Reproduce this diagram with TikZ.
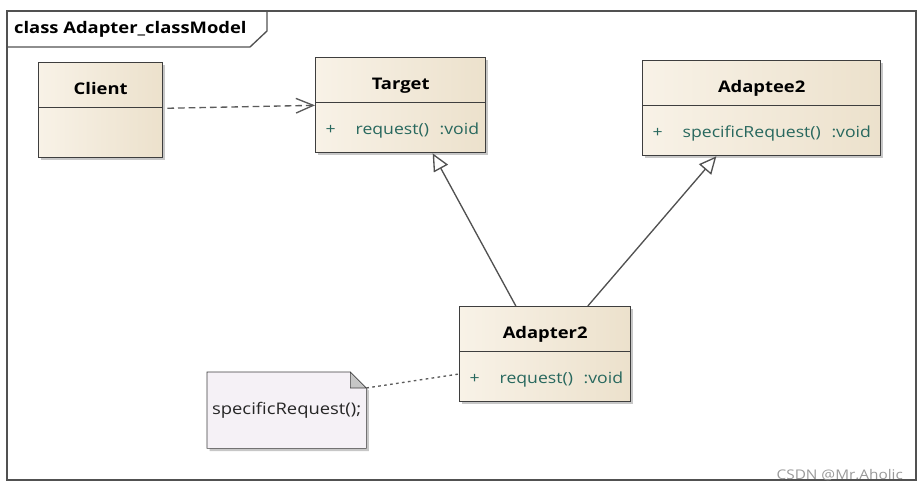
\documentclass[tikz,border=0pt]{standalone}
\usepackage{fontspec}
\setmainfont{Open Sans}[FakeStretch=1.15]
\usepackage{tikz}
\usetikzlibrary{arrows.meta}
\usetikzlibrary{positioning}
\usetikzlibrary{shadows}
\usetikzlibrary{backgrounds}
\definecolor{umllight}{RGB}{248,242,231}
\definecolor{umldark}{RGB}{236,225,204}
\definecolor{umlline}{RGB}{62,62,62}
\definecolor{umlmember}{RGB}{40,104,94}
\definecolor{notefill}{RGB}{245,241,246}
\definecolor{notefold}{RGB}{198,198,198}
\tikzstyle{umlhead} = [rectangle, draw=umlline, line width=1pt, left color=umllight,
    right color=umldark, anchor=north west, minimum height=33.75pt,
    text height=14pt, text depth=0.5pt,
    font=\fontsize{12}{14}\selectfont\bfseries,
    drop shadow={shadow xshift=2pt, shadow yshift=-2pt, fill=black!55, opacity=0.4}]
\tikzstyle{umlbody} = [rectangle, draw=umlline, line width=1pt, left color=umllight,
    right color=umldark, minimum height=37.5pt, inner xsep=7.5pt, align=left,
    text height=12pt, text depth=1.5pt,
    text=umlmember, font=\fontsize{11.5}{14}\selectfont,
    drop shadow={shadow xshift=2pt, shadow yshift=-2pt, fill=black!55, opacity=0.4}]
\tikzstyle{umlnote} = [rectangle, anchor=north west, minimum width=117.75pt,
    minimum height=56.25pt, font=\fontsize{12}{14}\selectfont, text=black!85]
\newcommand{\umlop}[1]{\mbox{\makebox[22.5pt][l]{+}#1\hspace{8pt}:void}}

\begin{document}
\begin{tikzpicture}[x=0.75pt,y=-0.75pt,line width=1pt,
                    inherit/.style={draw=umlline!90,-{Triangle[open,fill=white,length=13pt,width=12pt]}},
                    depend/.style={draw=umlline!85,dash pattern=on 5pt off 3pt,
                                   -{Straight Barb[length=13pt,width=11pt]}},
                    anchorline/.style={draw=umlline!85,dash pattern=on 2pt off 2.5pt}]

  \useasboundingbox (0,0) rectangle (923,491);

  % frame of the class model
  \draw[umlline!90] (7,11) rectangle (916,480);
  \draw[umlline!90] (7,47) -- (250,47) -- (267,31) -- (267,11);
  \node[anchor=west, font=\fontsize{12}{14}\selectfont\bfseries] (title) at (9,29) {class Adapter\_classModel};

  % classes
  \node[umlhead, minimum width=93pt]     (client) at (38,62) {Client};
  \node[umlbody, text width=78pt]        (clientops) [below=-1pt of client] {};
  \node[umlhead, minimum width=127.5pt]  (target) at (315,57) {Target};
  \node[umlbody, text width=112.5pt]     (targetops) [below=-1pt of target] {\umlop{request()}};
  \node[umlhead, minimum width=178.5pt]  (adaptee) at (642,60) {Adaptee2};
  \node[umlbody, text width=163.5pt]     (adapteeops) [below=-1pt of adaptee] {\umlop{specificRequest()}};
  \node[umlhead, minimum width=128.25pt] (adapter) at (459,306) {Adapter2};
  \node[umlbody, text width=113.25pt]    (adapterops) [below=-1pt of adapter] {\umlop{request()}};

  % note
  \node[umlnote] (note) at (207,372) {specificRequest();};
  \begin{scope}[on background layer]
    \filldraw[draw=umlline, fill=notefill,
              drop shadow={shadow xshift=2pt, shadow yshift=-2pt, fill=black!55, opacity=0.4}]
      (note.south west) -- (note.north west) -- ([xshift=-12pt]note.north east)
      -- ([yshift=-12pt]note.north east) -- (note.south east) -- cycle;
    \filldraw[draw=umlline, fill=notefold]
      ([xshift=-12pt]note.north east) -- ([xshift=-12pt,yshift=-12pt]note.north east)
      -- ([yshift=-12pt]note.north east) -- cycle;
  \end{scope}

  % connectors
  \path (client.south east) edge[depend, shorten <=3pt] ([yshift=-1.5pt]target.south west)
  ([xshift=-22pt]adapter.north) edge[inherit] ([xshift=24pt]targetops.south)
  ([xshift=32pt]adapter.north) edge[inherit] ([xshift=-34pt]adapteeops.south)
  ([yshift=-12pt]note.north east) edge[anchorline] ([yshift=2pt]adapterops.west);

  \node[anchor=base east, text=black!40, font=\fontsize{10}{12}\selectfont] (mark) at (908,479) {CSDN @Mr.Aholic};
\end{tikzpicture}
\end{document}
